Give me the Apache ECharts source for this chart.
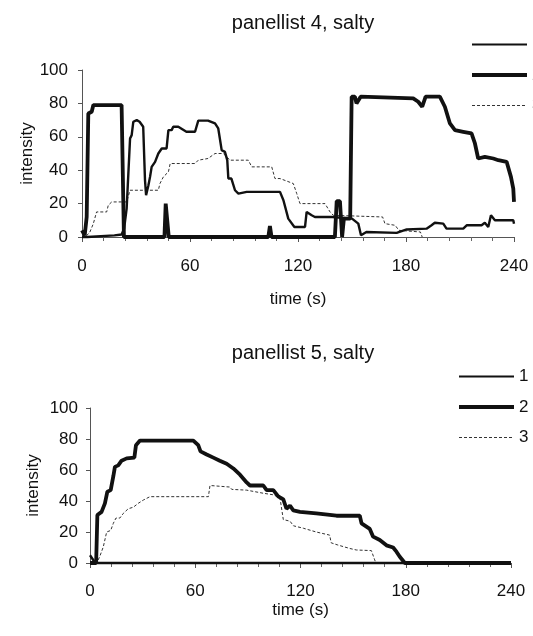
<!DOCTYPE html>
<html>
<head>
<meta charset="utf-8">
<script src="https://cdn.jsdelivr.net/npm/echarts@6/dist/echarts.min.js"></script>
<style>
html,body{margin:0;padding:0;background:#fff;}
#chart{width:533px;height:636px;}
</style>
</head>
<body>
<div id="chart"></div>
<script>
// ---- data: [time (s), intensity] ----
var titles = ['panellist 4, salty', 'panellist 5, salty'];
var seriesNames = ['1', '2', '3'];
var xTicks = [0, 60, 120, 180, 240];
var yTicks = [0, 20, 40, 60, 80, 100];

var p4_s1 = [[0,0],[3,0],[18,1],[22,1.5],[23.4,5],[24.8,17],[26.7,59],[27.6,61],[28.5,69],[30.4,70],[32,69],[34,66],[35,34],[35.6,25],[36.9,31],[37.8,36],[38.7,42],[40.6,45],[42.4,50],[44.3,53],[47,53],[48,64],[49.8,64],[50.7,66],[53.5,66],[58,63],[62.8,63],[64.6,69.7],[70,69.7],[73.9,68],[75.7,65],[77.6,52],[79.4,51],[80.7,46],[81.3,35],[83,35],[85,28],[86.9,26],[91.5,27],[110,27],[111.9,22],[114.6,11],[115.6,10],[118,6],[123.9,6],[124.8,15],[127.6,13],[129.4,12],[139,12],[150,11],[153.5,8],[155,1],[158,3],[174.8,2.5],[180.4,4.5],[191.4,5],[194.2,7],[196,8.5],[200.7,8],[202.5,5],[211.8,5],[213.7,7],[222,7],[223.8,8.5],[225.7,6],[227.2,13],[229.4,10],[239.6,10],[240,8]];
var p4_s2 = [[0,4],[1.5,1],[2.6,12],[3.5,74],[5.4,75],[6.3,79],[22,79],[23.3,0],[45.8,0],[46.5,20],[47.5,20],[48.2,0],[103.5,0],[104.4,6.6],[105.3,0],[140.5,0],[141.5,21.5],[143.3,21.5],[144.5,0],[145.5,11],[149,11],[149.8,84],[151.6,84],[152.5,80],[153.5,80],[154.8,84],[184,83],[186.8,81],[189,78],[190.9,84],[198.8,84],[201.6,78],[204.4,68],[207.2,64],[211.8,63],[216.4,62],[218.3,56],[220.1,47],[223.8,48],[228.5,47],[231.3,46],[235.9,45],[238.3,36],[239.6,29],[240,21]];
var p4_s3 = [[0,0],[1.9,0],[4.4,3],[6.3,8],[8.1,15],[13.7,15],[14.6,19],[16.5,21],[24.8,21],[26.7,28],[42.4,28],[43.3,32],[45.2,36],[48,39],[49,44],[62.8,44],[64.6,46],[70,47],[73.9,50],[78.5,50],[80.4,48],[82.2,46],[92.4,46],[94.3,42],[105.4,42],[107.2,35],[110,35],[117.4,32],[119.3,26],[121.1,20],[135,20],[137.8,15],[139.6,13],[167,12],[168.3,8],[174,7],[176,4],[188,3],[189,0]];

var p5_s1 = [[0,5],[3,0],[240,0]];
var p5_s2 = [[0,0],[3.5,0],[4.2,31],[6.6,33],[8.5,38.5],[9.9,46],[11.8,47],[13.3,56],[14.2,62],[16.1,63],[18,66],[20.9,67.5],[25.3,68],[26.2,76],[28.5,79],[58.9,79],[61.7,76],[63,72],[66.5,70],[70.3,68],[74,66],[77.9,64],[81.7,61],[85.5,57],[89.3,52],[91.2,50],[98.8,50],[100.7,47],[104.5,47],[107.3,43],[110.2,41],[112,35],[114,37],[115.9,34],[119.7,33],[129,32],[140.5,30.5],[153.8,30.5],[154.8,25.6],[159.5,22],[161.4,17],[165.2,14.8],[169,11.4],[172.8,10],[174.7,7.3],[176.6,4],[179.5,0],[240,0]];
var p5_s3 = [[0,0],[3.8,0],[5.5,4],[7.6,10.5],[9.5,20],[11.8,21],[13.3,25.6],[14.8,29],[17,29],[19,32],[21.8,35],[24.7,36],[27.5,38.5],[30.4,40.6],[34.2,42.8],[67.5,42.8],[68.4,50],[69.4,50.5],[79.8,49],[80.8,47.5],[89.3,47],[98.8,45],[104.5,44],[108.3,42],[110.2,28],[114,27],[116,24],[121.7,22.4],[129,20],[136.6,18],[137.5,13],[141.3,11.6],[148,9.4],[151.8,8.4],[160.4,8],[162.3,2],[163,0]];

// ---- chart ----
var FONT = '"Liberation Sans", Arial, sans-serif';
var INK = '#111';
var lineStyles = [
  {width: 2.4, color: INK, type: 'solid'},
  {width: 3.8, color: INK, type: 'solid'},
  {width: 1, color: '#333', type: [3, 2]}
];

function mkX(gi, nameGap, margin) {
  return {
    type: 'value', gridIndex: gi, min: xTicks[0], max: xTicks[xTicks.length - 1], interval: 60,
    name: 'time (s)', nameLocation: 'middle', nameGap: nameGap, nameMoveOverlap: false,
    nameTextStyle: {fontFamily: FONT, fontSize: 17, color: INK},
    axisLine: {show: true, lineStyle: {color: '#555', width: 1}},
    axisTick: {show: true, length: 5, lineStyle: {color: '#555'}},
    minorTick: {show: true, splitNumber: 5, length: 4, lineStyle: {color: '#666'}},
    splitLine: {show: false}, minorSplitLine: {show: false},
    axisLabel: {fontFamily: FONT, fontSize: 17, color: INK, margin: margin}
  };
}
function mkY(gi, nameGap, margin) {
  return {
    type: 'value', gridIndex: gi, min: yTicks[0], max: yTicks[yTicks.length - 1], interval: 20,
    name: 'intensity', nameLocation: 'middle', nameGap: nameGap, nameRotate: 90, nameMoveOverlap: false,
    nameTextStyle: {fontFamily: FONT, fontSize: 17, color: INK},
    axisLine: {show: true, lineStyle: {color: '#555', width: 1}},
    axisTick: {show: true, length: 4, lineStyle: {color: '#555'}},
    splitLine: {show: false},
    axisLabel: {fontFamily: FONT, fontSize: 17, color: INK, margin: margin}
  };
}
function mkSeries(name, data, gi, idx) {
  return {
    name: name, type: 'line', xAxisIndex: gi, yAxisIndex: gi, data: data,
    showSymbol: false, symbol: 'none', clip: false, animation: false,
    lineStyle: lineStyles[idx], itemStyle: {color: lineStyles[idx].color},
    z: idx === 1 ? 4 : (idx === 0 ? 3 : 2)
  };
}
function mkLegend(left, top) {
  return {
    orient: 'vertical', left: left, top: top, padding: 0, itemWidth: 55, itemHeight: 14, itemGap: 13.5,
    data: seriesNames.map(function (n, i) {
      return {name: n, lineStyle: {width: [2, 4, 1][i], color: lineStyles[i].color, type: lineStyles[i].type}};
    }),
    selectedMode: false,
    itemStyle: {opacity: 0},
    textStyle: {fontFamily: FONT, fontSize: 17, color: INK}
  };
}

var chart = echarts.init(document.getElementById('chart'), null, {renderer: 'canvas'});
chart.setOption({
  backgroundColor: '#fff',
  animation: false,
  title: [
    {text: titles[0], left: 298, top: 8, textAlign: 'center', textStyle: {fontFamily: FONT, fontSize: 20, fontWeight: 'normal', color: INK}},
    {text: titles[1], left: 298, top: 338, textAlign: 'center', textStyle: {fontFamily: FONT, fontSize: 20, fontWeight: 'normal', color: INK}}
  ],
  legend: [mkLegend(470, 36), mkLegend(457, 368)],
  grid: [
    {left: 82, top: 70, width: 432, height: 167},
    {left: 90, top: 408, width: 421, height: 155}
  ],
  xAxis: [mkX(0, 54, 21), mkX(1, 39, 20)],
  yAxis: [mkY(0, 46, 14), mkY(1, 48, 12)],
  series: [
    mkSeries(seriesNames[2], p4_s3, 0, 2),
    mkSeries(seriesNames[0], p4_s1, 0, 0),
    mkSeries(seriesNames[1], p4_s2, 0, 1),
    mkSeries(seriesNames[2], p5_s3, 1, 2),
    mkSeries(seriesNames[0], p5_s1, 1, 0),
    mkSeries(seriesNames[1], p5_s2, 1, 1)
  ]
});
</script>
</body>
</html>
